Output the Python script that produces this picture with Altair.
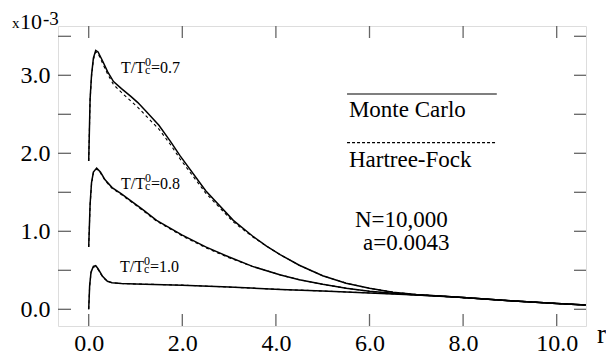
import altair as alt
import pandas as pd

# ---- data (values in units of 1e-3) ----
r07 = [0.0, 0.03, 0.06, 0.10, 0.15, 0.20, 0.30, 0.40, 0.53, 0.70, 0.90, 1.05, 1.24, 1.50, 1.75, 1.95, 2.50, 3.09, 3.50, 3.80, 4.09, 4.5, 5.0, 5.5, 6.0, 6.5, 7.0, 8.0, 9.0, 10.0, 10.62]
mc07 = [1.90, 2.70, 3.00, 3.22, 3.32, 3.30, 3.18, 3.05, 2.92, 2.83, 2.73, 2.65, 2.53, 2.36, 2.15, 1.97, 1.52, 1.14, 0.94, 0.81, 0.70, 0.565, 0.43, 0.335, 0.27, 0.22, 0.19, 0.15, 0.11, 0.075, 0.055]
hf07 = [1.90, 2.68, 2.98, 3.20, 3.30, 3.28, 3.15, 3.02, 2.88, 2.78, 2.67, 2.59, 2.47, 2.31, 2.11, 1.93, 1.49, 1.12, 0.93, 0.81, 0.70, 0.565, 0.43, 0.335, 0.27, 0.22, 0.19, 0.15, 0.11, 0.075, 0.055]

r08 = [0.0, 0.03, 0.06, 0.10, 0.17, 0.25, 0.35, 0.50, 0.70, 0.88, 1.15, 1.45, 2.0, 2.5, 3.0, 3.5, 4.1, 4.5, 5.0, 5.5, 6.0, 6.5, 7.0, 8.0, 9.0, 10.0, 10.62]
mc08 = [0.80, 1.35, 1.62, 1.76, 1.81, 1.76, 1.66, 1.56, 1.48, 1.40, 1.28, 1.14, 0.95, 0.80, 0.67, 0.55, 0.44, 0.38, 0.32, 0.27, 0.23, 0.205, 0.185, 0.15, 0.11, 0.075, 0.055]
hf08 = [0.80, 1.33, 1.60, 1.75, 1.80, 1.75, 1.65, 1.55, 1.47, 1.39, 1.27, 1.13, 0.94, 0.79, 0.66, 0.55, 0.44, 0.38, 0.32, 0.27, 0.23, 0.205, 0.185, 0.15, 0.11, 0.075, 0.055]

r10 = [0.0, 0.02, 0.05, 0.10, 0.15, 0.20, 0.30, 0.40, 0.50, 0.70, 1.0, 2.0, 3.0, 4.1, 5.0, 6.0, 7.0, 7.5, 8.0, 9.0, 10.0, 10.62]
mc10 = [0.00, 0.30, 0.48, 0.55, 0.56, 0.52, 0.42, 0.36, 0.34, 0.33, 0.325, 0.31, 0.285, 0.255, 0.235, 0.21, 0.185, 0.17, 0.15, 0.11, 0.075, 0.055]
hf10 = [0.00, 0.29, 0.47, 0.54, 0.55, 0.51, 0.41, 0.36, 0.34, 0.33, 0.325, 0.31, 0.285, 0.255, 0.235, 0.21, 0.185, 0.17, 0.15, 0.11, 0.075, 0.055]

x_ticks = [0, 2, 4, 6, 8, 10]
y_labels = [0, 1, 2, 3]
y_ticks = [0, 0.5, 1, 1.5, 2, 2.5, 3, 3.5]

W, H = 528, 300
XDOM = [-0.656, 10.626]
YDOM = [-0.214, 3.632]
SERIF = "Liberation Serif"

rows = []
for name, rr, mc, hf in [("0.7", r07, mc07, hf07), ("0.8", r08, mc08, hf08), ("1.0", r10, mc10, hf10)]:
    for a, b in zip(rr, mc):
        rows.append({"r": a, "v": b, "curve": name, "method": "MC", "key": name + "MC"})
    for a, b in zip(rr, hf):
        rows.append({"r": a, "v": b, "curve": name, "method": "HF", "key": name + "HF"})
df = pd.DataFrame(rows)

xs = alt.Scale(domain=XDOM, nice=False, zero=False)
ys = alt.Scale(domain=YDOM, nice=False, zero=False)

base = alt.Chart(df)

mc_lines = base.transform_filter(alt.datum.method == "MC").mark_line(
    color="black", strokeWidth=1.5, clip=True
).encode(
    x=alt.X("r:Q", scale=xs, axis=alt.Axis(values=x_ticks, format=".1f", ticks=False, domain=False, grid=False,
                                            labelFont=SERIF, labelFontSize=24, labelColor="black",
                                            labelPadding=5, title=None)),
    y=alt.Y("v:Q", scale=ys, axis=alt.Axis(values=y_labels, format=".1f", ticks=False, domain=False, grid=False,
                                            labelFont=SERIF, labelFontSize=24, labelColor="black",
                                            labelPadding=8, title=None)),
    detail="key:N",
)

hf_lines = base.transform_filter(alt.datum.method == "HF").mark_line(
    color="black", strokeWidth=1.1, strokeDash=[3, 3], clip=True
).encode(x=alt.X("r:Q", scale=xs), y=alt.Y("v:Q", scale=ys), detail="key:N")

tick_color = "#666666"
xt = pd.DataFrame({"t": x_ticks})
yt = pd.DataFrame({"t": y_ticks})
bottom_ticks = alt.Chart(xt).mark_rule(color=tick_color, strokeWidth=1.3).encode(
    x=alt.X("t:Q", scale=xs), y=alt.value(H), y2=alt.value(H - 12))
top_ticks = alt.Chart(xt).mark_rule(color=tick_color, strokeWidth=1.3).encode(
    x=alt.X("t:Q", scale=xs), y=alt.value(0), y2=alt.value(12))
left_ticks = alt.Chart(yt).mark_rule(color=tick_color, strokeWidth=1.3).encode(
    y=alt.Y("t:Q", scale=ys), x=alt.value(0), x2=alt.value(13))
right_ticks = alt.Chart(yt).mark_rule(color=tick_color, strokeWidth=1.3).encode(
    y=alt.Y("t:Q", scale=ys), x=alt.value(W), x2=alt.value(W - 12))

leg_lines = pd.DataFrame({"x1": [5.52, 5.52], "x2": [8.72, 8.72], "y": [2.76, 2.136], "m": ["MC", "HF"]})
leg_mc = alt.Chart(leg_lines[leg_lines.m == "MC"]).mark_rule(color="black", strokeWidth=1.2).encode(
    x=alt.X("x1:Q", scale=xs), x2="x2:Q", y=alt.Y("y:Q", scale=ys))
leg_hf = alt.Chart(leg_lines[leg_lines.m == "HF"]).mark_rule(color="black", strokeWidth=1.2, strokeDash=[3, 2]).encode(
    x=alt.X("x1:Q", scale=xs), x2="x2:Q", y=alt.Y("y:Q", scale=ys))

leg_text = pd.DataFrame({
    "x": [5.56, 5.56, 5.69, 5.86],
    "y": [2.464, 1.824, 1.055, 0.76],
    "t": ["Monte Carlo", "Hartree-Fock", "N=10,000", "a=0.0043"],
})
leg_txt = alt.Chart(leg_text).mark_text(font=SERIF, fontSize=23, align="left", baseline="alphabetic", color="black").encode(
    x=alt.X("x:Q", scale=xs), y=alt.Y("y:Q", scale=ys), text="t:N")

lab = pd.DataFrame({"x": [0.69, 0.69, 0.67], "y": [3.025, 1.54, 0.48], "val": ["=0.7", "=0.8", "=1.0"]})
lab_T = alt.Chart(lab).mark_text(font=SERIF, fontSize=16, align="left", baseline="alphabetic", color="black").encode(
    x=alt.X("x:Q", scale=xs), y=alt.Y("y:Q", scale=ys), text=alt.value("T/T"))
lab_sup = alt.Chart(lab).mark_text(font=SERIF, fontSize=12, align="left", baseline="alphabetic", color="black", dx=24, dy=-7).encode(
    x=alt.X("x:Q", scale=xs), y=alt.Y("y:Q", scale=ys), text=alt.value("0"))
lab_sub = alt.Chart(lab).mark_text(font=SERIF, fontSize=12, align="left", baseline="alphabetic", color="black", dx=24, dy=1).encode(
    x=alt.X("x:Q", scale=xs), y=alt.Y("y:Q", scale=ys), text=alt.value("c"))
lab_val = alt.Chart(lab).mark_text(font=SERIF, fontSize=16, align="left", baseline="alphabetic", color="black", dx=30).encode(
    x=alt.X("x:Q", scale=xs), y=alt.Y("y:Q", scale=ys), text="val:N")

one = pd.DataFrame({"a": [0]})
mult_x = alt.Chart(one).mark_text(font=SERIF, fontSize=15, align="left", baseline="alphabetic", color="black").encode(
    x=alt.value(-46), y=alt.value(2), text=alt.value("x"))
mult_10 = alt.Chart(one).mark_text(font=SERIF, fontSize=22, align="left", baseline="alphabetic", color="black").encode(
    x=alt.value(-38), y=alt.value(3), text=alt.value("10"))
mult_e = alt.Chart(one).mark_text(font=SERIF, fontSize=19, align="left", baseline="alphabetic", color="black").encode(
    x=alt.value(-15), y=alt.value(-1), text=alt.value("-3"))
r_lab = alt.Chart(one).mark_text(font=SERIF, fontSize=27, align="left", baseline="alphabetic", color="black").encode(
    x=alt.value(539), y=alt.value(317), text=alt.value("r"))

chart = alt.layer(
    mc_lines, hf_lines, bottom_ticks, top_ticks, left_ticks, right_ticks,
    leg_mc, leg_hf, leg_txt, lab_T, lab_sup, lab_sub, lab_val,
    mult_x, mult_10, mult_e, r_lab,
).properties(
    width=W, height=H,
    autosize=alt.AutoSizeParams(type="none"),
    padding={"left": 50, "top": 18, "right": 20, "bottom": 28},
).configure_view(
    stroke="#777777", strokeWidth=1.3
).configure(background="white")

chart.save("out.html", embed_options={"renderer": "svg", "actions": False})
